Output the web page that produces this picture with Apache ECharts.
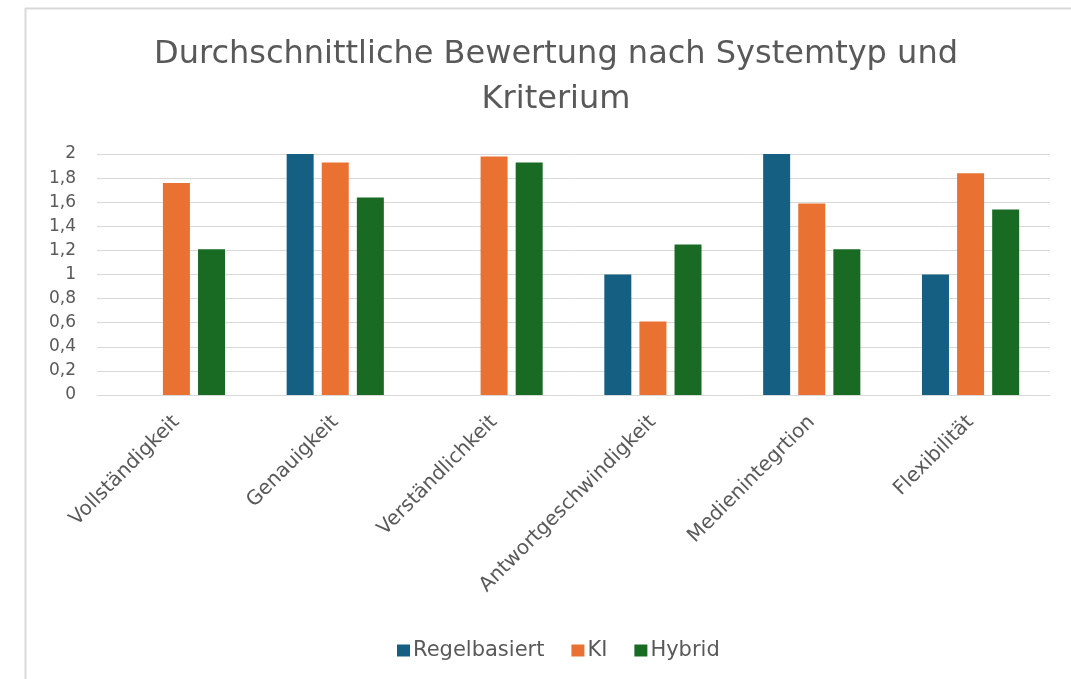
<!DOCTYPE html>
<html>
<head>
<meta charset="utf-8">
<script src="https://cdn.jsdelivr.net/npm/echarts@6/dist/echarts.min.js"></script>
<style>
html,body{margin:0;padding:0;background:#fff;}
#c{width:1071px;height:679px;}
</style>
</head>
<body>
<div id="c"></div>
<script>
const categories = ['Vollständigkeit','Genauigkeit','Verständlichkeit','Antwortgeschwindigkeit','Medienintegrtion','Flexibilität'];
const regelbasiert = [0, 2, 0, 1, 2, 1];
const ki = [1.76, 1.93, 1.98, 0.61, 1.59, 1.84];
const hybrid = [1.21, 1.64, 1.93, 1.25, 1.21, 1.54];
const yTicks = {min: 0, max: 2, interval: 0.2};

const chart = echarts.init(document.getElementById('c'));
const fontFam = '"DejaVu Sans", Verdana, sans-serif';
chart.setOption({
  backgroundColor: '#fff',
  animation: false,
  graphic: [
    {type:'line', shape:{x1:25,y1:8.5,x2:1071,y2:8.5}, style:{stroke:'#d9d9d9',lineWidth:2}},
    {type:'line', shape:{x1:25.5,y1:8,x2:25.5,y2:679}, style:{stroke:'#d9d9d9',lineWidth:2}}
  ],
  title: {
    text: 'Durchschnittliche Bewertung nach Systemtyp und\nKriterium',
    left: 551, textAlign: 'center', top: 27,
    textStyle: {fontFamily: fontFam, fontSize: 32, fontWeight: 'normal', color: '#595959', lineHeight: 45}
  },
  legend: {
    data: ['Regelbasiert','KI','Hybrid'],
    top: 635, left: 392,
    icon: 'rect', itemWidth: 13, itemHeight: 12, itemGap: 27,
    textStyle: {fontFamily: fontFam, fontSize: 21, color: '#595959', padding:[0,0,0,-2]}
  },
  grid: {left: 97, right: 21, top: 154, bottom: 284},
  xAxis: {
    type: 'category', data: categories,
    axisLine: {lineStyle: {color: '#d9d9d9'}},
    axisTick: {show: false},
    axisLabel: {rotate: 45, fontFamily: fontFam, fontSize: 20, color: '#595959', margin: 24, interval: 0}
  },
  yAxis: {
    type: 'value', min: yTicks.min, max: yTicks.max, interval: yTicks.interval,
    axisLine: {show: false}, axisTick: {show: false},
    splitLine: {lineStyle: {color: '#d9d9d9', width: 1}},
    axisLabel: {fontFamily: fontFam, fontSize: 17, color: '#595959', margin: 21,
      formatter: v => String(Math.round(v*10)/10).replace('.', ',')}
  },
  series: [
    {name:'Regelbasiert', type:'bar', data: regelbasiert, itemStyle:{color:'#156082'}, barWidth: 27, barGap: '30%'},
    {name:'KI', type:'bar', data: ki, itemStyle:{color:'#E97132'}, barWidth: 27, barGap: '30%'},
    {name:'Hybrid', type:'bar', data: hybrid, itemStyle:{color:'#196B24'}, barWidth: 27, barGap: '30%'}
  ]
});
</script>
</body>
</html>
